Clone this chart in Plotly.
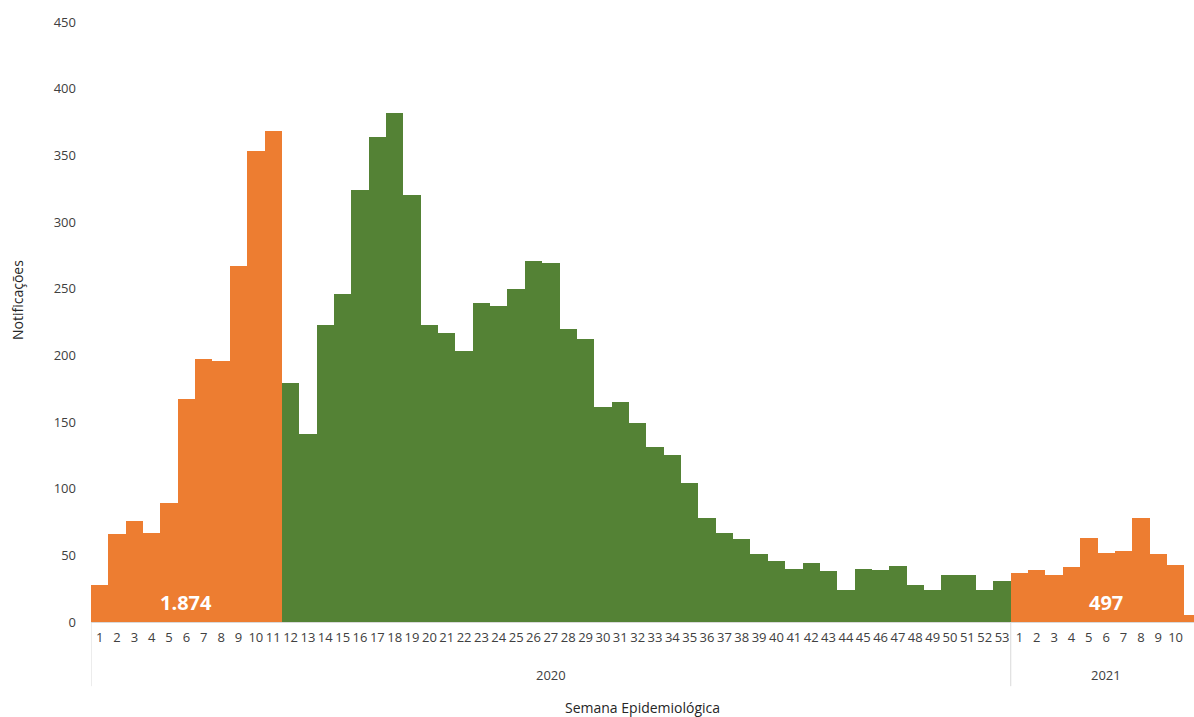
import plotly.graph_objects as go

# Weekly notifications by epidemiological week
weeks_2020 = [str(w) for w in range(1, 54)]
values_2020 = [28, 66, 76, 67, 89, 167, 197, 196, 267, 353, 368,
               179, 141, 223, 246, 324, 364, 382, 320, 223, 217, 203, 239, 237, 250, 271, 269,
               220, 212, 161, 165, 149, 131, 125, 104, 78, 67, 62, 51, 46, 40, 44, 38, 24,
               40, 39, 42, 28, 24, 35, 35, 24, 31]
weeks_2021 = [str(w) for w in range(1, 12)]
values_2021 = [37, 39, 35, 41, 63, 52, 53, 78, 51, 43, 5]
year_labels = ["2020", "2021"]

weeks = weeks_2020 + weeks_2021
values = values_2020 + values_2021
positions = list(range(len(values)))

ORANGE = "#ED7D31"
GREEN = "#548235"
# Highlighted periods: weeks 1-11 of 2020 and all of 2021
highlight_2020 = 11
colors = ([ORANGE] * highlight_2020 + [GREEN] * (len(weeks_2020) - highlight_2020)
          + [ORANGE] * len(weeks_2021))

total_a = sum(values_2020[:highlight_2020])
total_b = sum(values_2021)


def fmt(n):
    return f"{n:,}".replace(",", ".")


fig = go.Figure(go.Bar(
    x=positions,
    y=values,
    width=1,
    marker=dict(color=colors, line=dict(width=0)),
    hoverinfo="y",
))

FONT = "Open Sans"
GRAY = "#404040"
DIV = "#D9D9D9"

# Totals written inside the highlighted periods
n20, n21 = len(weeks_2020), len(weeks_2021)
fig.add_annotation(x=(highlight_2020 - 1) / 2, y=0, xref="x", yref="y",
                   text=f"<b>{fmt(total_a)}</b>", showarrow=False,
                   yanchor="bottom", yshift=4,
                   font=dict(family=FONT, size=20, color="white"))
fig.add_annotation(x=n20 + (n21 - 1) / 2, y=0, xref="x", yref="y",
                   text=f"<b>{fmt(total_b)}</b>", showarrow=False,
                   yanchor="bottom", yshift=4,
                   font=dict(family=FONT, size=20, color="white"))

# Year group labels and dividers below the week labels
groups = [(year_labels[0], -0.5, n20 - 0.5), (year_labels[1], n20 - 0.5, n20 + n21 - 0.5)]
for label, x0, x1 in groups:
    fig.add_annotation(x=(x0 + x1) / 2, y=-0.088, xref="x", yref="paper",
                       text=label, showarrow=False, xanchor="center", yanchor="middle",
                       font=dict(family=FONT, size=13, color=GRAY))
for xd in [-0.5, n20 - 0.5, n20 + n21 - 0.5]:
    fig.add_shape(type="line", x0=xd, x1=xd, y0=0, y1=-0.107, xref="x", yref="paper",
                  line=dict(color=DIV, width=1))

fig.add_annotation(x=0.5, y=-0.142, xref="paper", yref="paper",
                   text="Semana Epidemiológica", showarrow=False,
                   xanchor="center", yanchor="middle",
                   font=dict(family=FONT, size=14, color="#262626"))
fig.add_annotation(x=-0.066, y=0.537, xref="paper", yref="paper",
                   text="Notificações", showarrow=False, textangle=-90,
                   xanchor="center", yanchor="middle",
                   font=dict(family=FONT, size=14, color="#262626"))

fig.update_layout(
    width=1194, height=717,
    margin=dict(l=91, r=0, t=22, b=95),
    paper_bgcolor="white", plot_bgcolor="white",
    bargap=0,
    showlegend=False,
    font=dict(family=FONT, size=13, color=GRAY),
)
fig.update_xaxes(
    range=[-0.5, 63.06],
    tickmode="array", tickvals=positions, ticktext=weeks,
    showgrid=False, zeroline=False,
    showline=True, linecolor=DIV, linewidth=1,
    ticks="", tickangle=0, ticklabelstandoff=3,
    tickfont=dict(family=FONT, size=13, color=GRAY),
)
fig.update_yaxes(
    range=[0, 450], dtick=50,
    showgrid=False, zeroline=False, showline=False,
    ticks="", ticklabelstandoff=14,
    tickfont=dict(family=FONT, size=13, color=GRAY),
)

fig.write_html("out.html")
